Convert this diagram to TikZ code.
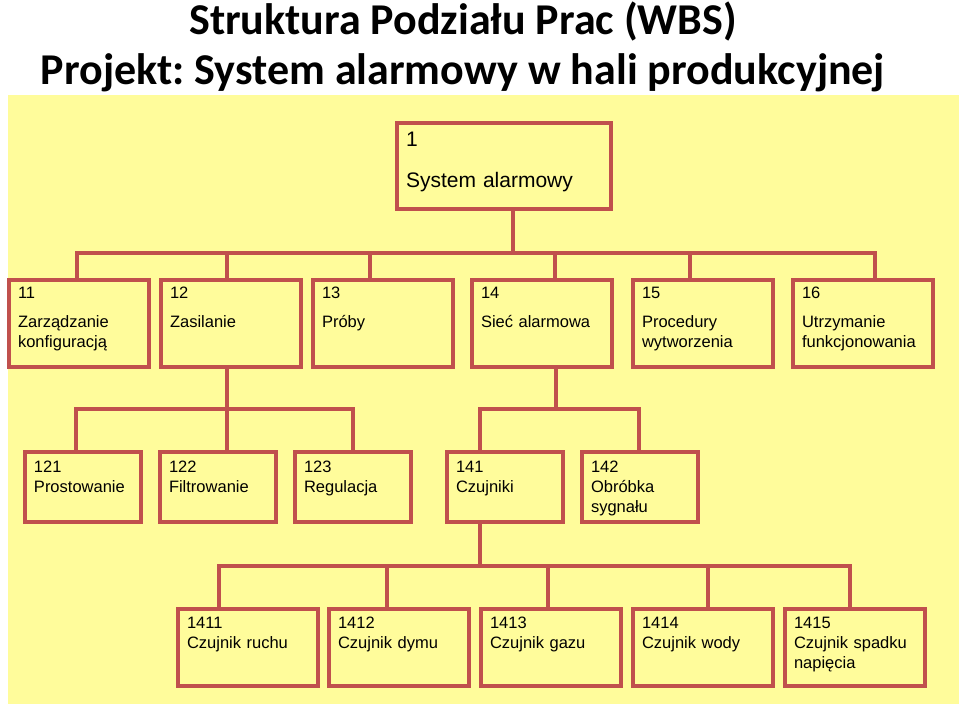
\documentclass[tikz,border=0pt]{standalone}
\usepackage{fontspec}
\setmainfont{Liberation Sans}
\newfontfamily\titlefont{Carlito}
\usetikzlibrary{positioning}
\frenchspacing

\definecolor{boxred}{RGB}{192,80,77}
\definecolor{boxyellow}{RGB}{255,252,155}

\tikzset{
  wbs/.style={draw=boxred, line width=4pt, fill=boxyellow, anchor=north west, outer sep=0pt,
    inner xsep=9pt, inner ysep=0pt, align=left, text=black, font=\fontsize{16.5}{20}\selectfont},
  rootbox/.style={wbs, text width=196pt, text height=24pt, text depth=62pt, font=\fontsize{21}{26}\selectfont},
  lvlone/.style={wbs, text width=122pt, text height=19pt, text depth=68pt},
  lvltwo/.style={wbs, text width=98pt, text height=20pt, text depth=50pt},
  lvlthree/.style={wbs, text width=122pt, text height=19pt, text depth=58pt},
  link/.style={draw=boxred, line width=4pt}
}

\begin{document}
\begin{tikzpicture}[x=1pt, y=-1pt]
\useasboundingbox (0,0) rectangle (959,711);
\fill[boxyellow] (8,95) rectangle (959,704);

\node[anchor=base, font=\titlefont\bfseries\fontsize{44}{50}\selectfont] (titleA) at (463,35) {Struktura Podziału Prac (WBS)};
\node[anchor=base, font=\titlefont\bfseries\fontsize{44}{50}\selectfont] (titleB) at (463,85) {Projekt: System alarmowy w hali produkcyjnej};

% poziom 0
\node[rootbox] (n1) at (397,123) {1\\[15pt]System alarmowy};

% poziom 1
\node[lvlone] (n11) at (9,280) {11\\[9pt]Zarządzanie\\konfiguracją};
\node[lvlone] (n12) at (161,280) {12\\[9pt]Zasilanie};
\node[lvlone] (n13) at (313,280) {13\\[9pt]Próby};
\node[lvlone] (n14) at (472,280) {14\\[9pt]Sieć alarmowa};
\node[lvlone] (n15) at (633,280) {15\\[9pt]Procedury\\wytworzenia};
\node[lvlone] (n16) at (793,280) {16\\[9pt]Utrzymanie\\funkcjonowania};

% poziom 2
\node[lvltwo] (n121) at (25,452) {121\\Prostowanie};
\node[lvltwo] (n122) at (160,452) {122\\Filtrowanie};
\node[lvltwo] (n123) at (295,452) {123\\Regulacja};
\node[lvltwo] (n141) at (447,452) {141\\Czujniki};
\node[lvltwo] (n142) at (582,452) {142\\Obróbka\\sygnału};

% poziom 3
\node[lvlthree] (n1411) at (178,609) {1411\\Czujnik ruchu};
\node[lvlthree] (n1412) at (329,609) {1412\\Czujnik dymu};
\node[lvlthree] (n1413) at (481,609) {1413\\Czujnik gazu};
\node[lvlthree] (n1414) at (633,609) {1414\\Czujnik wody};
\node[lvlthree] (n1415) at (785,609) {1415\\Czujnik spadku\\napięcia};

\coordinate (busA) at (513,253);
\coordinate (busB) at (227,409);
\coordinate (busC) at (555,409);
\coordinate (busD) at (479,566);

\draw[link] ([xshift=9pt]n1.south) -- (busA);
\draw[link] ([xshift=-2pt]n11.north) |- ([xshift=12pt]n16.north |- busA) -- ([xshift=12pt]n16.north);
\foreach \n/\s in {n12/-4, n13/-13, n14/13, n15/-13}
  \draw[link] ([xshift=\s pt]\n.north) -- ([xshift=\s pt]\n.north |- busA);

\draw[link] ([xshift=-4pt]n12.south) -- ([xshift=-4pt]n12.south |- busB);
\draw[link] ([xshift=-7pt]n121.north) |- (n123.north |- busB) -- (n123.north);
\draw[link] ([xshift=9pt]n122.north) -- ([xshift=9pt]n122.north |- busB);

\draw[link] ([xshift=13.5pt]n14.south) -- ([xshift=13.5pt]n14.south |- busC);
\draw[link] ([xshift=-25.5pt]n141.north) |- ([xshift=-1pt]n142.north |- busC) -- ([xshift=-1pt]n142.north);

\draw[link] ([xshift=-25.5pt]n141.south) -- ([xshift=-25.5pt]n141.south |- busD);
\draw[link] ([xshift=-29.5pt]n1411.north) |- ([xshift=-5.5pt]n1415.north |- busD) -- ([xshift=-5.5pt]n1415.north);
\foreach \n/\s in {n1412/-12, n1413/-3.5, n1414/4.5}
  \draw[link] ([xshift=\s pt]\n.north) -- ([xshift=\s pt]\n.north |- busD);

\end{tikzpicture}
\end{document}
